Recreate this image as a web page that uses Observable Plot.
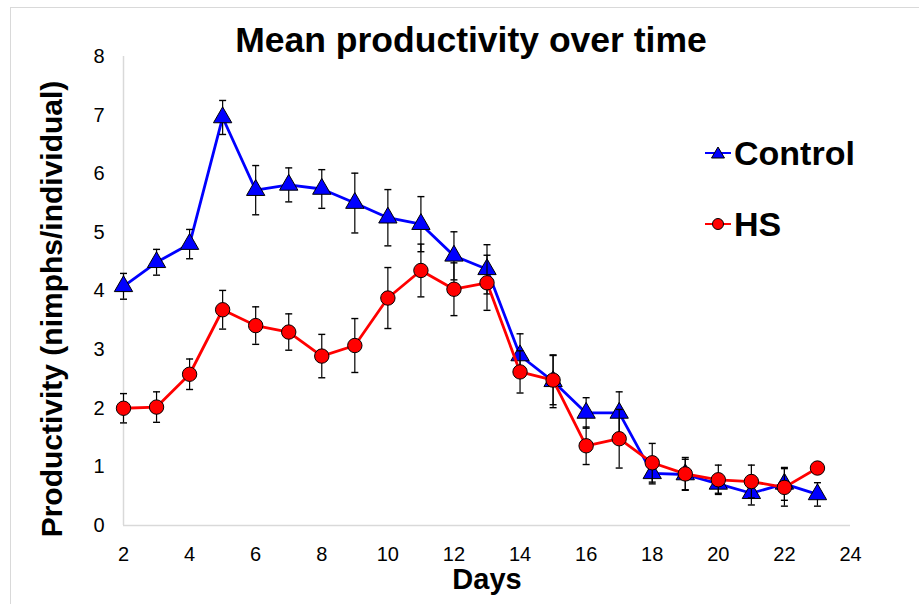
<!DOCTYPE html>
<html>
<head>
<meta charset="utf-8">
<script src="https://cdn.jsdelivr.net/npm/d3@7"></script>
<script src="https://cdn.jsdelivr.net/npm/@observablehq/plot@0.6"></script>
<style>
  html, body { margin: 0; padding: 0; background: #fff; }
  body { width: 919px; height: 604px; overflow: hidden; position: relative; font-family: "Liberation Sans", Arial, sans-serif; }
  #frame { position: absolute; left: 10px; top: 7px; width: 1000px; height: 1000px; border: 1px solid #d9d9d9; box-sizing: border-box; }
  #title { position: absolute; left: 471px; top: 22px; transform: translateX(-50%); font-size: 35.5px; font-weight: bold; line-height: 36px; white-space: nowrap; color: #000; }
  #chart { position: absolute; left: 0; top: 48px; }
  .leg { position: absolute; left: 704px; display: flex; align-items: center; font-size: 34px; font-weight: bold; color: #000; line-height: 34px; }
  .leg svg { margin-right: 2px; }
</style>
</head>
<body>
<div id="frame"></div>
<div id="title">Mean productivity over time</div>
<div id="chart"></div>
<div class="leg" id="leg1" style="top:136px"></div>
<div class="leg" id="leg2" style="top:207px"></div>
<script>
// ---- data ----
const days = [2, 3, 4, 5, 6, 7, 8, 9, 10, 11, 12, 13, 14, 15, 16, 17, 18, 19, 20, 21, 22, 23];
const controlMean = [4.08, 4.49, 4.80, 6.96, 5.72, 5.81, 5.74, 5.50, 5.25, 5.14, 4.60, 4.37, 2.90, 2.46, 1.92, 1.92, 0.89, 0.87, 0.71, 0.55, 0.71, 0.53];
const controlErr  = [0.22, 0.22, 0.25, 0.29, 0.42, 0.29, 0.33, 0.51, 0.48, 0.47, 0.41, 0.42, 0.37, 0.45, 0.26, 0.36, 0.18, 0.26, 0.16, 0.20, 0.28, 0.20];
const hsMean = [2.00, 2.02, 2.58, 3.68, 3.41, 3.30, 2.89, 3.07, 3.88, 4.35, 4.03, 4.14, 2.62, 2.48, 1.36, 1.48, 1.07, 0.88, 0.78, 0.75, 0.65, 0.98];
const hsErr  = [0.25, 0.26, 0.26, 0.33, 0.32, 0.31, 0.37, 0.46, 0.52, 0.45, 0.45, 0.47, 0.36, 0.42, 0.32, 0.50, 0.33, 0.28, 0.25, 0.28, 0.32, 0.05];
const xTicks = [2, 4, 6, 8, 10, 12, 14, 16, 18, 20, 22, 24];
const yTicks = [0, 1, 2, 3, 4, 5, 6, 7, 8];
const seriesNames = ["Control", "HS"];
const seriesColors = ["#0000ff", "#ff0000"];
const titleText = "Mean productivity over time";
const xLabel = "Days";
const yLabel = "Productivity (nimphs/individual)";

const control = days.map((d, i) => ({day: d, v: controlMean[i], e: controlErr[i]}));
const hs = days.map((d, i) => ({day: d, v: hsMean[i], e: hsErr[i]}));

const cap = { draw(ctx) { ctx.moveTo(-3.5, 0); ctx.lineTo(3.5, 0); } };

function errMarks(data) {
  return [
    Plot.ruleX(data, {x: "day", y1: d => d.v - d.e, y2: d => d.v + d.e, stroke: "#000", strokeWidth: 1.2}),
    Plot.dot(data, {x: "day", y: d => d.v + d.e, symbol: cap, stroke: "#000", strokeWidth: 1.4, r: 3}),
    Plot.dot(data, {x: "day", y: d => d.v - d.e, symbol: cap, stroke: "#000", strokeWidth: 1.4, r: 3})
  ];
}

const chart = Plot.plot({
  width: 919,
  height: 556,
  marginLeft: 123,
  marginRight: 69,
  marginTop: 8,
  marginBottom: 79,
  style: {fontFamily: "'Liberation Sans', Arial, sans-serif", fontSize: "20px", color: "#000", background: "transparent", overflow: "visible"},
  x: {domain: [2, 24], ticks: xTicks, tickSize: 0, tickPadding: 21, label: null},
  y: {domain: [0, 8], ticks: yTicks, tickSize: 0, tickPadding: 19, label: null},
  marks: [
    Plot.ruleY([0], {stroke: "#d9d9d9", strokeWidth: 1.5}),
    Plot.ruleX([2], {stroke: "#d9d9d9", strokeWidth: 1.5}),
    Plot.line(control, {x: "day", y: "v", stroke: seriesColors[0], strokeWidth: 2.8}),
    ...errMarks(control),
    Plot.dot(control, {x: "day", y: "v", symbol: "triangle", r: 6.8, fill: seriesColors[0], stroke: "#000", strokeWidth: 1}),
    Plot.line(hs, {x: "day", y: "v", stroke: seriesColors[1], strokeWidth: 2.8}),
    ...errMarks(hs),
    Plot.dot(hs, {x: "day", y: "v", symbol: "circle", r: 7.2, fill: seriesColors[1], stroke: "#000", strokeWidth: 1}),
    Plot.text([yLabel], {frameAnchor: "left", textAnchor: "middle", dx: -71, dy: 18, rotate: -90, text: d => d, fontSize: 30, fontWeight: "bold", fill: "#000"}),
    Plot.text([xLabel], {frameAnchor: "bottom", dy: 63, text: d => d, fontSize: 29, fontWeight: "bold", fill: "#000"})
  ]
});
document.getElementById("chart").appendChild(chart);
document.getElementById("title").textContent = titleText;

function legendItem(el, name, color, sym) {
  const marker = sym === "triangle"
    ? `<polygon points="14,4 20.5,15 7.5,15" fill="${color}" stroke="#000" stroke-width="1"/>`
    : `<circle cx="14" cy="10" r="5.5" fill="${color}" stroke="#000" stroke-width="1"/>`;
  el.innerHTML = `<svg width="28" height="20" viewBox="0 0 28 20"><line x1="1" y1="10" x2="27" y2="10" stroke="${color}" stroke-width="2"/>${marker}</svg><span>${name}</span>`;
}
legendItem(document.getElementById("leg1"), seriesNames[0], seriesColors[0], "triangle");
legendItem(document.getElementById("leg2"), seriesNames[1], seriesColors[1], "circle");
</script>
</body>
</html>
